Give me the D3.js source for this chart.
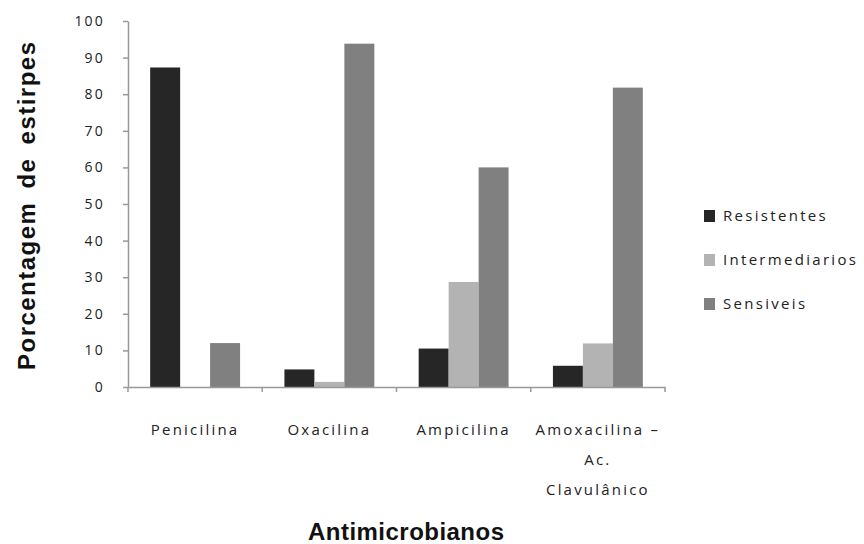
<!DOCTYPE html>
<html>
<head>
<meta charset="utf-8">
<script src="https://cdn.jsdelivr.net/npm/d3@7"></script>
<style>
  html, body { margin: 0; padding: 0; background: #fff; }
  svg { display: block; }
</style>
</head>
<body>
<svg id="chart" width="864" height="544"></svg>
<script>
const categories = ["Penicilina", "Oxacilina", "Ampicilina", "Amoxacilina –|Ac.|Clavulânico"];
const seriesNames = ["Resistentes", "Intermediarios", "Sensiveis"];
const resistentes = [87.3, 4.8, 10.5, 5.8];
const intermediarios = [0, 1.4, 28.7, 11.9];
const sensiveis = [12.0, 93.8, 60.0, 81.8];
const yTicks = [0, 10, 20, 30, 40, 50, 60, 70, 80, 90, 100];
const colors = ["#262626", "#b3b3b3", "#808080"];

const seriesValues = [resistentes, intermediarios, sensiveis];
const data = categories.map((c, i) => ({
  cat: c,
  values: seriesNames.map((s, j) => ({ series: s, value: seriesValues[j][i], color: colors[j] }))
}));

const svg = d3.select("#chart");
const plotLeft = 128, plotRight = 665, plotTop = 21, plotBottom = 387;

const x0 = d3.scaleBand().domain(categories).range([plotLeft, plotRight]).paddingInner(0).paddingOuter(0);
const x1 = d3.scaleBand().domain(seriesNames).range([0, x0.bandwidth()]).paddingInner(0).paddingOuter(0.74);
const y = d3.scaleLinear().domain([0, 100]).range([plotBottom, plotTop]);

const tickFont = "'Open Sans', 'DejaVu Sans', sans-serif";
const axisColor = "#999";

// bars
const groups = svg.append("g").selectAll("g").data(data).join("g")
  .attr("transform", d => `translate(${x0(d.cat)},0)`);
groups.selectAll("rect").data(d => d.values).join("rect")
  .attr("x", d => x1(d.series))
  .attr("width", x1.bandwidth())
  .attr("y", d => y(d.value))
  .attr("height", d => y(0) - y(d.value))
  .attr("fill", d => d.color);

// y axis
const yAxis = svg.append("g").attr("transform", `translate(${plotLeft},0)`)
  .call(d3.axisLeft(y).tickValues(yTicks).tickSize(5).tickSizeOuter(0).tickPadding(18));
yAxis.select(".domain").attr("stroke", axisColor).attr("stroke-width", 1.5);
yAxis.selectAll(".tick line").attr("stroke", axisColor).attr("stroke-width", 1.5);
yAxis.selectAll(".tick text")
  .attr("font-family", tickFont).attr("font-size", 14).attr("fill", "#222")
  .attr("letter-spacing", 2.2);

// x axis
const xAxis = svg.append("g").attr("transform", `translate(0,${plotBottom})`)
  .call(d3.axisBottom(x0).tickSize(0).tickSizeOuter(0).tickFormat(""));
xAxis.select(".domain").attr("stroke", axisColor).attr("stroke-width", 1.5);
const boundaries = categories.map(c => x0(c)).concat([x0(categories[categories.length - 1]) + x0.bandwidth()]);
xAxis.selectAll("line.bound").data(boundaries).join("line")
  .attr("class", "bound")
  .attr("x1", d => d).attr("x2", d => d)
  .attr("y1", 0).attr("y2", 5)
  .attr("stroke", axisColor).attr("stroke-width", 1.5);

// x tick labels (multi-line)
const xl = svg.append("g").selectAll("text").data(categories).join("text")
  .attr("x", d => x0(d) + x0.bandwidth() / 2)
  .attr("y", 435)
  .attr("text-anchor", "middle")
  .attr("font-family", tickFont).attr("font-size", 15).attr("fill", "#222")
  .attr("letter-spacing", 2.2);
xl.each(function(d) {
  const lines = d.split("|");
  const t = d3.select(this);
  const cx = x0(d) + x0.bandwidth() / 2;
  lines.forEach((ln, i) => {
    t.append("tspan").attr("x", cx).attr("dy", i === 0 ? 0 : 30).text(ln);
  });
});

// y title
svg.append("text")
  .attr("transform", "translate(35,206) rotate(-90)")
  .attr("text-anchor", "middle")
  .attr("font-family", "'Liberation Sans', Arial, sans-serif")
  .attr("font-weight", "bold").attr("font-size", 24).attr("fill", "#111")
  .attr("word-spacing", 5)
  .attr("textLength", 328).attr("lengthAdjust", "spacing")
  .text("Porcentagem de estirpes");

// x title
svg.append("text")
  .attr("x", 406).attr("y", 540)
  .attr("text-anchor", "middle")
  .attr("font-family", "'Liberation Sans', Arial, sans-serif")
  .attr("font-weight", "bold").attr("font-size", 24).attr("fill", "#111")
  .attr("textLength", 196).attr("lengthAdjust", "spacing")
  .text("Antimicrobianos");

// legend
const legend = svg.append("g").selectAll("g").data(seriesNames).join("g")
  .attr("transform", (d, i) => `translate(704,${216 + i * 44})`);
legend.append("rect")
  .attr("x", 0).attr("y", -6).attr("width", 11).attr("height", 12)
  .attr("fill", (d, i) => colors[i]);
legend.append("text")
  .attr("x", 19).attr("y", 5)
  .attr("font-family", tickFont).attr("font-size", 15).attr("fill", "#222")
  .attr("letter-spacing", 2.3)
  .text(d => d);
</script>
</body>
</html>
